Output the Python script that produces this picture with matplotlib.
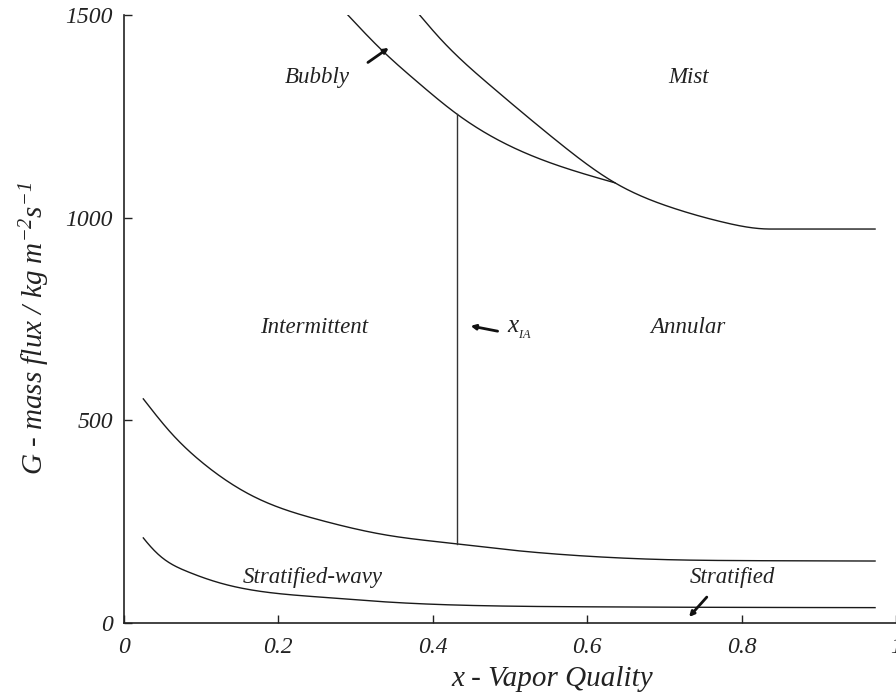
import numpy as np
import matplotlib
matplotlib.use("Agg")
import matplotlib.pyplot as plt

plt.rcParams['font.family'] = ['Liberation Serif', 'DejaVu Serif']
plt.rcParams['font.style'] = 'italic'
plt.rcParams['mathtext.fontset'] = 'custom'
plt.rcParams['mathtext.rm'] = 'Liberation Serif:italic'
plt.rcParams['mathtext.it'] = 'Liberation Serif:italic'

# transition curves (vapor quality x, mass flux G in kg/m2s)
x_strat = [0.025, 0.047, 0.082, 0.124, 0.167, 0.254, 0.340, 0.487, 0.600, 0.720, 0.973]
g_strat = [210, 165, 127, 99, 81, 64, 52, 42, 40, 39, 38]

x_wavy = [0.025, 0.060, 0.102, 0.167, 0.254, 0.340, 0.433, 0.487, 0.591, 0.711, 0.800, 0.973]
g_wavy = [553, 471, 395, 313, 254, 217, 195, 183, 166, 156, 154, 153]

x_bubbly = [0.290, 0.332, 0.380, 0.431, 0.517, 0.636]
g_bubbly = [1500, 1417, 1335, 1256, 1162, 1086]

x_mist = [0.383, 0.409, 0.474, 0.561, 0.636, 0.711, 0.776, 0.837]
g_mist = [1500, 1443, 1327, 1189, 1086, 1024, 989, 972]
x_mist_end = 0.973

x_ia = 0.431
g_ia_low, g_ia_high = 195, 1256

xticks = [0, 0.2, 0.4, 0.6, 0.8, 1]
xtick_labels = ['0', '0.2', '0.4', '0.6', '0.8', '1']
yticks = [0, 500, 1000, 1500]


def spline(xk, yk, xf, start_slope=None, end_slope=None):
    # cubic spline through the points; natural ends unless a slope is given
    xk = np.asarray(xk, float)
    yk = np.asarray(yk, float)
    n = len(xk)
    h = np.diff(xk)
    A = np.zeros((n, n))
    b = np.zeros(n)
    if start_slope is None:
        A[0, 0] = 1.0
    else:
        A[0, 0] = 2 * h[0]
        A[0, 1] = h[0]
        b[0] = 6 * ((yk[1] - yk[0]) / h[0] - start_slope)
    for i in range(1, n - 1):
        A[i, i - 1] = h[i - 1]
        A[i, i] = 2 * (h[i - 1] + h[i])
        A[i, i + 1] = h[i]
        b[i] = 6 * ((yk[i + 1] - yk[i]) / h[i] - (yk[i] - yk[i - 1]) / h[i - 1])
    if end_slope is None:
        A[-1, -1] = 1.0
    else:
        A[-1, -2] = h[-1]
        A[-1, -1] = 2 * h[-1]
        b[-1] = 6 * (end_slope - (yk[-1] - yk[-2]) / h[-1])
    M = np.linalg.solve(A, b)
    idx = np.clip(np.searchsorted(xk, xf) - 1, 0, n - 2)
    x0, x1 = xk[idx], xk[idx + 1]
    hh = h[idx]
    return (M[idx] * (x1 - xf)**3 / (6 * hh) + M[idx + 1] * (xf - x0)**3 / (6 * hh)
            + (yk[idx] / hh - M[idx] * hh / 6) * (x1 - xf)
            + (yk[idx + 1] / hh - M[idx + 1] * hh / 6) * (xf - x0))


fig = plt.figure(figsize=(8.96, 6.98), dpi=100)
# the axes run a little past the right edge of the canvas
ax = fig.add_axes([0.1384, 0.1074, 0.9554, 0.8711])

lc = '#1a1a1a'
xf = np.linspace(x_strat[0], x_strat[-1], 400)
ax.plot(xf, spline(x_strat, g_strat, xf, start_slope=-2400), color=lc, lw=1.0)
for xs, gs in [(x_wavy, g_wavy), (x_bubbly, g_bubbly)]:
    xf = np.linspace(xs[0], xs[-1], 400)
    ax.plot(xf, spline(xs, gs, xf), color=lc, lw=1.0)

xf = np.linspace(x_mist[0], x_mist[-1], 400)
gm = spline(x_mist, g_mist, xf, end_slope=0.0)
ax.plot(np.append(xf, x_mist_end), np.append(gm, g_mist[-1]), color=lc, lw=1.0)

ax.plot([x_ia, x_ia], [g_ia_low, g_ia_high], color='#333333', lw=1.0)

# region names
fs = 16.5
tc = '#222222'
ax.text(0.250, 1347, 'Bubbly', ha='center', va='center', fontsize=fs, color=tc)
ax.text(0.732, 1347, 'Mist', ha='center', va='center', fontsize=fs, color=tc)
ax.text(0.246, 728, 'Intermittent', ha='center', va='center', fontsize=fs, color=tc)
ax.text(0.731, 728, 'Annular', ha='center', va='center', fontsize=fs, color=tc)
ax.text(0.244, 113, 'Stratified-wavy', ha='center', va='center', fontsize=fs, color=tc)
ax.text(0.788, 113, 'Stratified', ha='center', va='center', fontsize=fs, color=tc)
ax.text(0.496, 722, r'x$_{_{IA}}$', ha='left', va='center', fontsize=18, color=tc)

arrow = dict(arrowstyle='-|>', lw=2.0, color='#111111', mutation_scale=7, shrinkA=0, shrinkB=0)
ax.annotate('', xy=(0.343, 1419), xytext=(0.316, 1383), arrowprops=arrow)
ax.annotate('', xy=(0.449, 733), xytext=(0.484, 720), arrowprops=arrow)
ax.annotate('', xy=(0.732, 15), xytext=(0.755, 64), arrowprops=arrow)

ax.set_xlim(0, 1.109)
ax.set_ylim(0, 1500)
ax.set_xticks(xticks)
ax.set_xticklabels(xtick_labels)
ax.set_yticks(yticks)
for s in ['top', 'right']:
    ax.spines[s].set_visible(False)
for s in ['left', 'bottom']:
    ax.spines[s].set_linewidth(1.2)
    ax.spines[s].set_color(tc)
ax.tick_params(direction='in', length=6, width=1.0, labelsize=17, colors=tc)
ax.tick_params(axis='x', pad=10)
ax.tick_params(axis='y', pad=8)

ax.set_xlabel('x - Vapor Quality', fontsize=21, color=tc)
ax.set_ylabel('G - mass flux / kg m$^{-2}$s$^{-1}$', fontsize=21, color=tc)
ax.xaxis.set_label_coords(0.5, -0.07)
ax.yaxis.set_label_coords(-0.084, 0.484)

fig.savefig('out.png', dpi=100)
